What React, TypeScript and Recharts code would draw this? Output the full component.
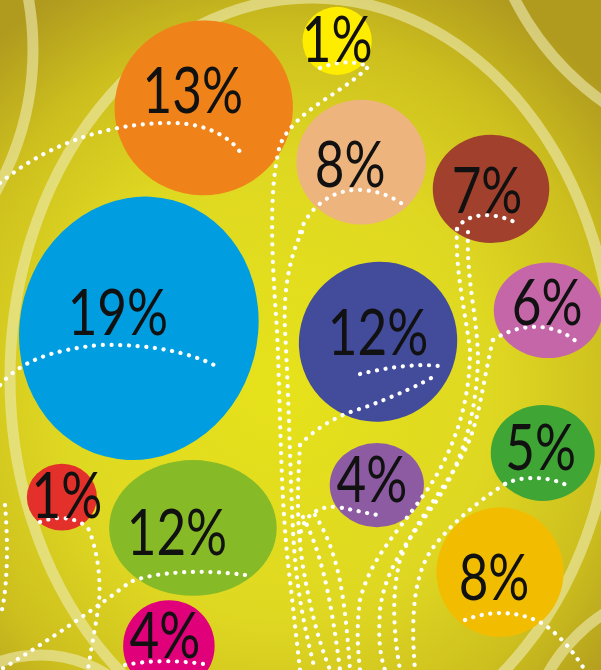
import React from 'react';
import { ScatterChart, Scatter, XAxis, YAxis, Customized } from 'recharts';

// share of each segment (%)
const VALUES = [13, 1, 8, 7, 19, 12, 6, 5, 4, 1, 12, 8, 4];
// bubble centres on a 0-100 grid
const POS_X = [33.9, 56.1, 60.1, 81.7, 23.1, 62.9, 91.2, 90.3, 62.7, 10.3, 32.1, 83.2, 28.1];
const POS_Y = [16.1, 6.1, 24.2, 28.2, 49.0, 51.0, 46.3, 67.6, 72.4, 74.2, 78.8, 85.4, 96.4];

const COLORS = [
  '#EF8219', '#FFED00', '#EDB47E', '#A1402C', '#009EE0', '#434B9B', '#C466A8',
  '#3FA535', '#8D5BA2', '#E3302A', '#87BA27', '#F2BD00', '#E0007A',
];
// blob look: [scaleX, scaleY, rotation, label dx, label baseline dy]
const BLOB = [
  [1.0, 0.98, -10, -11, 5],
  [1.02, 1.0, 0, 0, 21],
  [1.02, 0.98, 0, -11, 25],
  [0.99, 0.92, 0, -4, 24],
  [0.95, 1.06, 15, -21, 7],
  [0.94, 0.96, 30, 0, 13],
  [1.0, 0.88, 0, -1, 15],
  [1.04, 0.96, 0, -2, 17],
  [1.03, 0.92, 0, -5, 17],
  [1.03, 0.98, 0, 5, 21],
  [1.0, 0.81, 0, -16, 27],
  [1.0, 1.02, 0, -6, 28],
  [1.0, 1.0, 0, -4, 12],
];

const data = VALUES.map((v, i) => ({ x: POS_X[i], y: POS_Y[i], value: v, label: `${v}%` }));
const anchor = [{ x: 0, y: 0 }];

const radiusOf = (v: number) => 30.4 + 3.53 * v + 0.0765 * v * v;

const Bubble = (props: any) => {
  const { cx, cy, index, payload } = props;
  const r = radiusOf(payload.value);
  const [sx, sy, rot] = BLOB[index];
  return (
    <ellipse
      cx={cx}
      cy={cy}
      rx={r * sx}
      ry={r * sy}
      fill={COLORS[index]}
      transform={`rotate(${rot} ${cx} ${cy})`}
    />
  );
};

const Label = (props: any) => {
  const { cx, cy, index, payload } = props;
  const [, , , dx, dy] = BLOB[index];
  return (
    <text
      transform={`translate(${cx + dx} ${cy + dy}) scale(0.8 1)`}
      textAnchor="middle"
      fontFamily="Lato, 'Open Sans', sans-serif"
      fontSize={64}
      fill="#111"
    >
      {payload.label}
    </text>
  );
};

const Backdrop = () => (
  <g fill="none" stroke="#EFEBB4" strokeOpacity={0.6} strokeWidth={11}>
    <ellipse cx={312} cy={378} rx={302} ry={380} />
    <circle cx={-255} cy={50} r={288} />
    <circle cx={767} cy={-129} r={283} />
    <circle cx={40} cy={780} r={125} />
    <circle cx={700} cy={760} r={175} />
  </g>
);

const DOTTED = [
  // arcs under the labels
  'M0,183 C40,150 100,122 175,123 C210,124 235,140 243,157',
  'M320,68 Q345,58 368,66',
  'M300,232 C310,205 335,188 362,190 C380,191 395,198 405,206',
  'M457,229 C465,213 495,210 520,225',
  'M0,385 C20,362 50,350 100,345 C150,344 190,352 218,367',
  'M360,374 C385,368 420,362 445,367',
  'M300,445 C315,428 340,414 363,408 C395,396 420,385 438,374',
  'M493,340 C520,322 555,322 578,343',
  'M300,540 C300,520 315,505 337,507 C355,510 365,513 378,515',
  'M505,484 C520,476 550,475 570,487',
  'M40,522 C55,516 75,516 88,528 C98,550 102,585 98,610 C94,635 90,655 88,670',
  'M245,575 C210,570 160,570 130,582 C100,605 50,640 0,670',
  'M465,620 C490,610 520,610 545,625 C565,640 575,655 585,670',
  'M125,665 C150,660 180,660 210,665',
  'M5,505 C8,540 8,580 2,610',
  // streams
  'M367,68 C340,95 295,110 280,145 C268,190 272,260 277,330 C281,420 280,500 290,580 L300,670',
  'M302,232 C290,255 283,290 285,330 C289,400 290,470 293,530 C296,590 305,630 315,670',
  'M300,445 C298,480 296,520 302,560 C308,600 318,640 330,670',
  'M457,229 C455,270 465,310 470,350 C470,410 450,460 420,500 C395,535 370,560 360,600 C356,630 358,650 360,670',
  'M468,232 C466,280 478,320 478,360 C476,420 460,470 430,510 C405,545 385,570 380,610 C378,640 380,655 385,670',
  'M493,340 C483,380 480,420 465,450 C445,490 415,520 400,560 C390,600 395,640 400,670',
  'M505,484 C480,500 455,520 435,545 C415,570 410,610 415,670',
  'M303,517 C320,550 330,590 340,670',
  'M315,515 C340,555 345,600 350,670',
];

// drawn through a one-point series so that it lies above the bubbles
const Dots = () => (
  <g fill="none" stroke="#fff" strokeWidth={4.2} strokeLinecap="round" strokeDasharray="0.1 8.6">
    {DOTTED.map((d, i) => (
      <path key={i} d={d} />
    ))}
  </g>
);

const App: React.FC = () => {
  return (
    <div
      style={{
        position: 'absolute',
        left: 0,
        top: 0,
        width: 601,
        height: 670,
        overflow: 'hidden',
        background:
          'radial-gradient(ellipse 72% 68% at 46% 58%, #E6E21A 0%, #DFD822 50%, #CDBF1E 78%, #B09B1E 100%)',
      }}
    >
      <ScatterChart width={601} height={670} margin={{ top: 0, right: 0, bottom: 0, left: 0 }}>
        <XAxis type="number" dataKey="x" domain={[0, 100]} hide />
        <YAxis type="number" dataKey="y" domain={[0, 100]} reversed hide />
        <Customized component={<Backdrop />} />
        <Scatter data={data} shape={<Bubble />} isAnimationActive={false} />
        <Scatter data={anchor} shape={<Dots />} isAnimationActive={false} />
        <Scatter data={data} shape={<Label />} isAnimationActive={false} />
      </ScatterChart>
    </div>
  );
};

export default App;
